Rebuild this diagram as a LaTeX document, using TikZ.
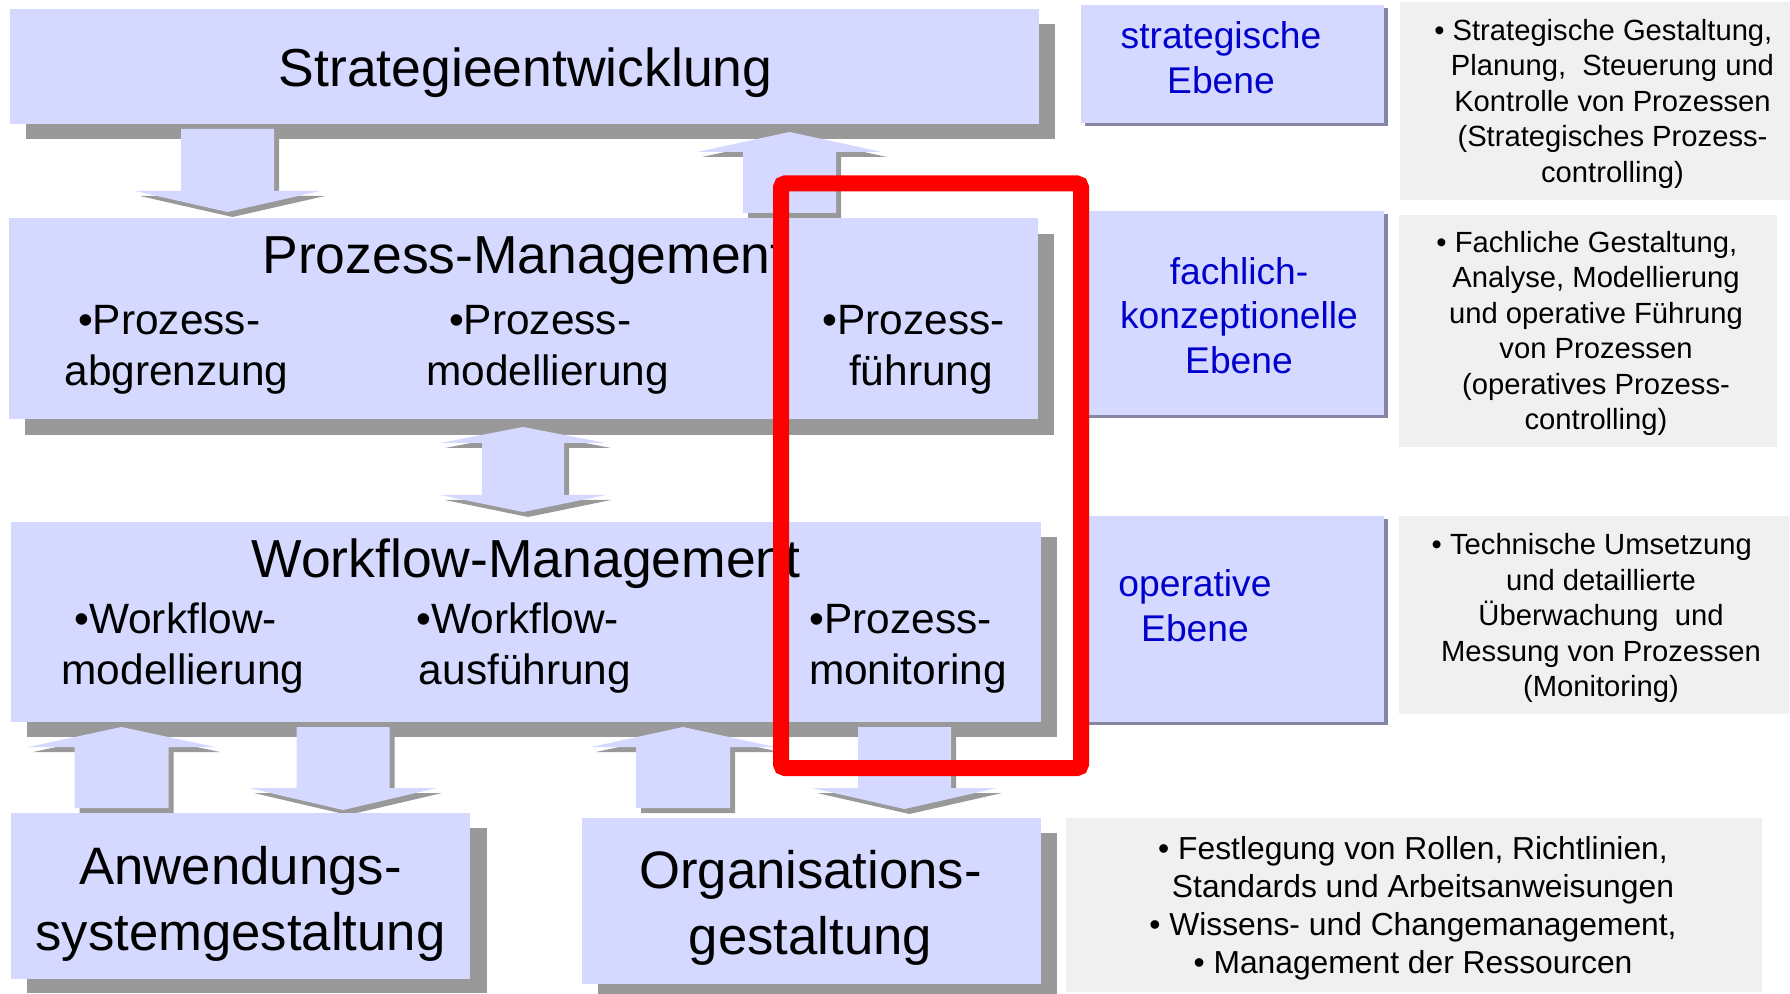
\documentclass[tikz,border=0pt]{standalone}
\usepackage{fontspec}
\setmainfont{Liberation Sans}
\definecolor{boxblue}{RGB}{213,217,255}
\definecolor{shadowgray}{RGB}{153,153,153}
\definecolor{lvlshadow}{RGB}{134,134,162}
\definecolor{notegray}{RGB}{240,240,240}
\definecolor{lvltext}{RGB}{0,0,204}
\definecolor{framered}{RGB}{255,0,0}
\newcommand\Lines[1]{\begin{tabular}[t]{@{}c@{}}#1\end{tabular}}
\newcommand\Bul{\llap{\textbullet}}
\newcommand\NBul{\llap{\textbullet\ }}
% up arrow: c, tip, wing, bottom, half shaft, half wing
\newcommand\UpArr[6]{%
  \fill[arrshadow,shift={(5,5)}] (#1,#2) -- ({#1+#6},#3) -- ({#1+#5},#3) -- ({#1+#5},#4) -- ({#1-#5},#4) -- ({#1-#5},#3) -- ({#1-#6},#3) -- cycle;
  \fill[arrfill] (#1,#2) -- ({#1+#6},#3) -- ({#1+#5},#3) -- ({#1+#5},#4) -- ({#1-#5},#4) -- ({#1-#5},#3) -- ({#1-#6},#3) -- cycle;}
% down arrow: c, top, wing, tip, half shaft, half wing
\newcommand\DownArr[6]{%
  \fill[arrshadow,shift={(5,5)}] ({#1-#5},#2) -- ({#1+#5},#2) -- ({#1+#5},#3) -- ({#1+#6},#3) -- (#1,#4) -- ({#1-#6},#3) -- ({#1-#5},#3) -- cycle;
  \fill[arrfill] ({#1-#5},#2) -- ({#1+#5},#2) -- ({#1+#5},#3) -- ({#1+#6},#3) -- (#1,#4) -- ({#1-#6},#3) -- ({#1-#5},#3) -- cycle;}
% double arrow: c, up tip, up wing, down wing, down tip, half shaft, half wing
\newcommand\DblArr[7]{%
  \fill[arrshadow,shift={(5,5)}] (#1,#2) -- ({#1+#7},#3) -- ({#1+#6},#3) -- ({#1+#6},#4) -- ({#1+#7},#4) -- (#1,#5) -- ({#1-#7},#4) -- ({#1-#6},#4) -- ({#1-#6},#3) -- ({#1-#7},#3) -- cycle;
  \fill[arrfill] (#1,#2) -- ({#1+#7},#3) -- ({#1+#6},#3) -- ({#1+#6},#4) -- ({#1+#7},#4) -- (#1,#5) -- ({#1-#7},#4) -- ({#1-#6},#4) -- ({#1-#6},#3) -- ({#1-#7},#3) -- cycle;}
\tikzset{
  arrfill/.style={fill=boxblue},
  arrshadow/.style={fill=shadowgray},
  boxfill/.style={fill=boxblue},
  boxshadow/.style={fill=shadowgray},
  lvlfill/.style={fill=boxblue},
  lvlshad/.style={fill=lvlshadow},
  notefill/.style={fill=notegray},
  txt/.style={anchor=base, inner sep=0pt, outer sep=0pt},
  headtxt/.style={txt, font=\fontsize{26.75}{32}\selectfont},
  subtxt/.style={txt, font=\fontsize{21.2}{25.25}\selectfont},
  bigtxt/.style={txt, font=\fontsize{26.35}{33}\selectfont},
  lvltxt/.style={txt, text=lvltext, font=\fontsize{18.6}{22.25}\selectfont},
  notetxt/.style={txt, font=\fontsize{14.6}{17.75}\selectfont},
  notebtxt/.style={txt, font=\fontsize{15.9}{19}\selectfont},
  redframe/.style={draw=framered, line width=8pt, rounded corners=2pt},
}
\begin{document}
\begin{tikzpicture}[x=0.5pt,y=-0.5pt]
\useasboundingbox (0,0) rectangle (1790,994);
\fill[white] (0,0) rectangle (1790,994);
\clip (0,0) rectangle (1790,994);
% shadows of the main boxes
\fill[boxshadow] (26,24) rectangle (1055,139);
\fill[boxshadow] (25,234) rectangle (1054,435);
\fill[boxshadow] (27,537) rectangle (1057,737);
\fill[boxshadow] (27,828) rectangle (487,993);
\fill[boxshadow] (598,833) rectangle (1057,999);
% block arrows
\DownArr{227.5}{129}{191}{212}{46.5}{92.5}
\UpArr{789.5}{132}{152}{213}{46.5}{92.5}
\DblArr{523}{427}{443}{495}{512}{41}{83}
\UpArr{121.5}{727}{747}{808}{47}{93.5}
\DownArr{343}{727}{788}{810}{46.5}{94}
\UpArr{683}{727}{747}{808}{47}{92}
\DownArr{904.5}{727}{788}{809}{46.5}{92.5}
% main boxes
\fill[boxfill] (10,9) rectangle (1039,124);
\fill[boxfill] (9,218) rectangle (1038,419);
\fill[boxfill] (11,522) rectangle (1041,722);
\fill[boxfill] (11,813) rectangle (470,979);
\fill[boxfill] (582,818) rectangle (1041,984);
% level boxes
\fill[lvlshad] (1085,8) rectangle (1388,126);
\fill[lvlfill] (1081,5) rectangle (1384,123);
\fill[lvlshad] (1085,214) rectangle (1388,418);
\fill[lvlfill] (1081,211) rectangle (1384,415);
\fill[lvlshad] (1085,519) rectangle (1388,725);
\fill[lvlfill] (1081,516) rectangle (1384,722);
% note boxes
\fill[notefill] (1400,2) rectangle (1790,200);
\fill[notefill] (1399,215) rectangle (1777,447);
\fill[notefill] (1399,516) rectangle (1789,714);
\fill[notefill] (1066,818) rectangle (1762,992);
% texts of the main boxes
\node[headtxt] (strat) at (525.5,87) {Strategieentwicklung};
\node[headtxt] (pm) at (524,274) {Prozess-Management};
\node[subtxt] (pm1) at (176.5,335) {\Lines{\Bul Prozess-\\abgrenzung}};
\node[subtxt] (pm2) at (547.5,335) {\Lines{\Bul Prozess-\\modellierung}};
\node[subtxt] (pm3) at (921,335) {\Lines{\Bul Prozess-\\führung}};
\node[headtxt] (wm) at (526,578) {Workflow-Management};
\node[subtxt] (wm1) at (183,634) {\Lines{\Bul Workflow-\\modellierung}};
\node[subtxt] (wm2) at (525,634) {\Lines{\Bul Workflow-\\ausführung}};
\node[subtxt] (wm3) at (908,634) {\Lines{\Bul Prozess-\\monitoring}};
\node[bigtxt] (anw) at (240.5,884) {\Lines{Anwendungs-\\systemgestaltung}};
\node[bigtxt] (org) at (810.5,888) {\Lines{Organisations-\\gestaltung}};
% level texts
\node[lvltxt] (lv1) at (1221,49) {\Lines{strategische\\Ebene}};
\node[lvltxt] (lv2) at (1239,284.5) {\Lines{fachlich-\\konzeptionelle\\Ebene}};
\node[lvltxt] (lv3) at (1195,597) {\Lines{operative\\Ebene}};
% notes
\node[notetxt] (n1) at (1612.5,40.5) {\Lines{\NBul Strategische Gestaltung,\\Planung,\ \ Steuerung und\\Kontrolle von Prozessen\\(Strategisches Prozess-\\controlling)}};
\node[notetxt] (n2) at (1596,252.5) {\Lines{\NBul Fachliche Gestaltung,\\Analyse, Modellierung\\und operative Führung\\von Prozessen\\(operatives Prozess-\\controlling)}};
\node[notetxt] (n3) at (1601,555) {\Lines{\NBul Technische Umsetzung\\und detaillierte\\\smash{Ü}berwachung\ \ und\\Messung von Prozessen\\(Monitoring)}};
\node[notebtxt] (n4) at (1423,859.5) {\Lines{\NBul Festlegung von Rollen, Richtlinien,\\Standards und Arbeitsanweisungen\\\NBul Wissens- und Changemanagement,\\\NBul Management der Ressourcen}};
% red highlight frame
\draw[redframe] (781,183.5) rectangle (1081,768);
\end{tikzpicture}
\end{document}
